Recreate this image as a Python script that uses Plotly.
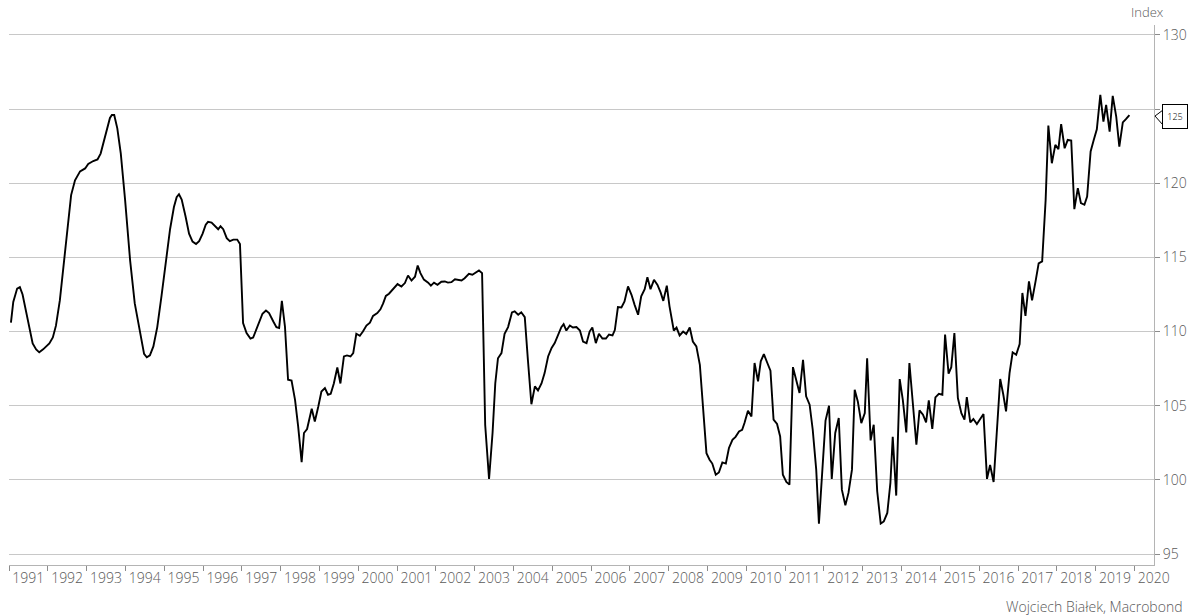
import datetime as _dt
import plotly.graph_objects as go

# Time points (decimal years) and index values
years = [
    1991.05, 1991.11, 1991.21, 1991.28, 1991.35, 1991.46, 1991.61, 1991.70, 1991.78, 1991.88,
    1992.04, 1992.13, 1992.21, 1992.31, 1992.40, 1992.49, 1992.60, 1992.70, 1992.83, 1992.96,
    1993.04, 1993.17, 1993.28, 1993.36, 1993.47, 1993.60, 1993.65, 1993.71, 1993.79, 1993.88,
    1993.99, 1994.12, 1994.24, 1994.37, 1994.48, 1994.55, 1994.63, 1994.72, 1994.82, 1994.93,
    1995.04, 1995.15, 1995.25, 1995.32, 1995.38, 1995.45, 1995.55, 1995.64, 1995.73, 1995.82,
    1995.90, 1995.99, 1996.07, 1996.13, 1996.22, 1996.31, 1996.39, 1996.45, 1996.52, 1996.61,
    1996.69, 1996.78, 1996.88, 1996.95, 1997.03, 1997.12, 1997.22, 1997.29, 1997.42, 1997.53,
    1997.62, 1997.70, 1997.81, 1997.89, 1997.96, 1998.03, 1998.11, 1998.19, 1998.28, 1998.37,
    1998.45, 1998.54, 1998.60, 1998.68, 1998.80, 1998.88, 1998.97, 1999.05, 1999.14, 1999.22,
    1999.29, 1999.37, 1999.46, 1999.54, 1999.63, 1999.71, 1999.80, 1999.87, 1999.95, 2000.04,
    2000.12, 2000.21, 2000.30, 2000.38, 2000.49, 2000.57, 2000.64, 2000.71, 2000.79, 2000.90,
    2001.01, 2001.11, 2001.20, 2001.28, 2001.37, 2001.46, 2001.53, 2001.60, 2001.69, 2001.80,
    2001.87, 2001.95, 2002.04, 2002.14, 2002.23, 2002.31, 2002.40, 2002.49, 2002.57, 2002.66,
    2002.74, 2002.85, 2002.94, 2003.03, 2003.11, 2003.19, 2003.27, 2003.37, 2003.46, 2003.53,
    2003.60, 2003.69, 2003.77, 2003.86, 2003.96, 2004.03, 2004.12, 2004.20, 2004.29, 2004.37,
    2004.46, 2004.55, 2004.63, 2004.72, 2004.80, 2004.89, 2004.98, 2005.06, 2005.15, 2005.23,
    2005.29, 2005.36, 2005.45, 2005.53, 2005.62, 2005.71, 2005.79, 2005.88, 2005.96, 2006.03,
    2006.12, 2006.20, 2006.29, 2006.38, 2006.46, 2006.55, 2006.61, 2006.69, 2006.78, 2006.86,
    2006.95, 2007.04, 2007.12, 2007.21, 2007.29, 2007.38, 2007.45, 2007.53, 2007.62, 2007.71,
    2007.79, 2007.86, 2007.95, 2008.02, 2008.13, 2008.20, 2008.28, 2008.37, 2008.45, 2008.54,
    2008.62, 2008.71, 2008.80, 2008.88, 2008.97, 2009.05, 2009.12, 2009.21, 2009.29, 2009.38,
    2009.47, 2009.55, 2009.64, 2009.72, 2009.81, 2009.89, 2009.95, 2010.04, 2010.13, 2010.21,
    2010.30, 2010.37, 2010.45, 2010.54, 2010.62, 2010.70, 2010.79, 2010.87, 2010.94, 2011.03,
    2011.11, 2011.20, 2011.29, 2011.37, 2011.46, 2011.54, 2011.63, 2011.71, 2011.80, 2011.87,
    2012.04, 2012.13, 2012.20, 2012.29, 2012.38, 2012.46, 2012.55, 2012.63, 2012.72, 2012.79,
    2012.87, 2012.96, 2013.05, 2013.11, 2013.20, 2013.28, 2013.37, 2013.46, 2013.54, 2013.63,
    2013.71, 2013.77, 2013.86, 2013.95, 2014.03, 2014.12, 2014.20, 2014.29, 2014.38, 2014.46,
    2014.55, 2014.63, 2014.70, 2014.79, 2014.87, 2014.96, 2015.05, 2015.12, 2015.21, 2015.28,
    2015.36, 2015.45, 2015.54, 2015.62, 2015.68, 2015.77, 2015.85, 2015.94, 2016.03, 2016.11,
    2016.20, 2016.28, 2016.37, 2016.45, 2016.54, 2016.62, 2016.69, 2016.78, 2016.86, 2016.95,
    2017.04, 2017.11, 2017.19, 2017.28, 2017.36, 2017.45, 2017.53, 2017.62, 2017.71, 2017.78,
    2017.87, 2017.96, 2018.04, 2018.11, 2018.20, 2018.28, 2018.37, 2018.45, 2018.54, 2018.62,
    2018.71, 2018.78, 2018.87, 2018.95, 2019.03, 2019.12, 2019.20, 2019.27, 2019.36, 2019.44,
    2019.53, 2019.61, 2019.70, 2019.78, 2019.87,
]

values = [
    110.6, 112.0, 112.9, 113.0, 112.5, 111.0, 109.2, 108.8, 108.6, 108.8,
    109.2, 109.6, 110.4, 112.1, 114.2, 116.6, 119.2, 120.2, 120.8, 121.0,
    121.3, 121.5, 121.6, 122.0, 123.15, 124.4, 124.6, 124.6, 123.7, 122.0,
    118.9, 114.8, 111.9, 109.9, 108.5, 108.27, 108.4, 109.0, 110.3, 112.4,
    114.6, 116.9, 118.4, 119.06, 119.26, 118.9, 117.76, 116.6, 116.07, 115.9,
    116.1, 116.6, 117.2, 117.4, 117.35, 117.1, 116.9, 117.1, 116.9, 116.3,
    116.1, 116.2, 116.2, 115.9, 110.57, 109.9, 109.53, 109.6, 110.46, 111.2,
    111.42, 111.25, 110.68, 110.3, 110.24, 112.07, 110.34, 106.75, 106.7, 105.4,
    103.6, 101.2, 103.16, 103.43, 104.8, 103.94, 104.95, 105.96, 106.19, 105.74,
    105.8, 106.5, 107.58, 106.5, 108.32, 108.39, 108.32, 108.55, 109.85, 109.72,
    110.0, 110.4, 110.6, 111.06, 111.25, 111.5, 111.9, 112.4, 112.55, 112.86,
    113.2, 113.04, 113.27, 113.78, 113.44, 113.7, 114.45, 113.94, 113.5, 113.3,
    113.1, 113.3, 113.15, 113.36, 113.38, 113.3, 113.33, 113.53, 113.5, 113.44,
    113.6, 113.9, 113.83, 114.0, 114.12, 113.94, 103.7, 100.06, 103.16, 106.5,
    108.2, 108.55, 109.85, 110.3, 111.29, 111.36, 111.13, 111.3, 110.97, 108.1,
    105.1, 106.3, 106.03, 106.5, 107.2, 108.32, 108.9, 109.22, 109.8, 110.3,
    110.5, 110.07, 110.41, 110.27, 110.3, 110.07, 109.33, 109.22, 110.0, 110.27,
    109.22, 109.85, 109.53, 109.53, 109.8, 109.74, 110.1, 111.65, 111.63, 112.03,
    113.04, 112.48, 111.8, 111.13, 112.37, 112.86, 113.67, 112.86, 113.49, 113.15,
    112.64, 112.07, 113.09, 111.7, 110.07, 110.27, 109.74, 110.0, 109.83, 110.27,
    109.33, 109.0, 107.76, 104.95, 101.8, 101.36, 101.1, 100.35, 100.5, 101.18,
    101.1, 102.15, 102.7, 102.9, 103.27, 103.38, 103.83, 104.66, 104.28, 107.88,
    106.64, 107.99, 108.48, 107.88, 107.36, 104.06, 103.77, 102.93, 100.35, 99.86,
    99.68, 107.6, 106.64, 105.86, 108.1, 105.63, 105.07, 103.38, 100.69, 97.05,
    104.0, 105.0, 100.06, 103.16, 104.17, 99.34, 98.28, 99.12, 100.69, 106.08,
    105.29, 103.83, 104.5, 108.2, 102.66, 103.72, 99.23, 97.05, 97.2, 97.77,
    99.8, 102.9, 98.94, 106.8, 105.4, 103.2, 107.88, 105.2, 102.37, 104.68,
    104.39, 103.87, 105.36, 103.43, 105.56, 105.8, 105.74, 109.8, 107.16, 107.6,
    109.9, 105.52, 104.5, 104.06, 105.58, 103.87, 104.1, 103.77, 104.17, 104.44,
    100.07, 101.0, 99.86, 103.38, 106.8, 105.74, 104.62, 107.2, 108.6, 108.44,
    109.16, 112.6, 111.06, 113.38, 112.1, 113.38, 114.6, 114.73, 118.88, 123.89,
    121.35, 122.59, 122.3, 123.98, 122.36, 122.92, 122.88, 118.25, 119.67, 118.66,
    118.55, 119.1, 122.14, 122.92, 123.64, 125.96, 124.16, 125.28, 123.48, 125.89,
    124.5, 122.47, 124.1, 124.32, 124.6,
]

tick_years = list(range(1991, 2021))
y_ticks = [95, 100, 105, 110, 115, 120, 125, 130]
y_ticktext = ["95", "100", "105", "110", "115", "120", "", "130"]  # 125 covered by callout
last_label = "125"
source_text = "Wojciech Białek, Macrobond"
unit_text = "Index"


def to_date(y):
    yr = int(y)
    frac = y - yr
    start = _dt.datetime(yr, 1, 1)
    end = _dt.datetime(yr + 1, 1, 1)
    return start + (end - start) * frac


dates = [to_date(v) for v in years]
label_pos = [_dt.datetime(y, 7, 1) for y in tick_years]

FONT = "Segoe UI Light, Open Sans, Lato, sans-serif"
GREY = "#595959"
W = 300

fig = go.Figure()
fig.add_trace(go.Scatter(
    x=dates, y=values, mode="lines",
    line=dict(color="#000000", width=1.9),
    hoverinfo="skip", showlegend=False,
))

fig.update_layout(
    width=1196, height=616,
    margin=dict(l=9, r=42, t=25, b=51, autoexpand=False),
    paper_bgcolor="white", plot_bgcolor="white",
    font=dict(family=FONT, size=14, color=GREY, weight=W),
    showlegend=False,
)

fig.update_xaxes(
    range=[_dt.datetime(1991, 1, 1), _dt.datetime(2020, 7, 3)],
    tickvals=label_pos, ticktext=[str(y) for y in tick_years],
    ticks="", showgrid=False, zeroline=False,
    showline=True, linecolor="#b4b4b4", linewidth=1,
    tickfont=dict(family=FONT, size=14, color=GREY, weight=W),
    minor=dict(tick0="1991-01-01", dtick="M12", ticks="outside", ticklen=5,
               tickcolor="#8c8c8c", tickwidth=1, showgrid=False),
)

fig.update_yaxes(
    side="right", range=[94.26, 130.67],
    tickvals=y_ticks, ticktext=y_ticktext,
    ticks="outside", ticklen=5, tickcolor="#8c8c8c",
    showgrid=True, gridcolor="#c8c8c8", gridwidth=1,
    zeroline=False, showline=True, linecolor="#b4b4b4", linewidth=1,
    tickfont=dict(family=FONT, size=14, color=GREY, weight=W),
)

# Last value callout: bordered label box plus a notch pointing at the axis
last_val = values[-1]
fig.add_annotation(
    xref="paper", yref="y", x=1, y=last_val, xanchor="left", yanchor="middle",
    xshift=8, yshift=-1, text=last_label, showarrow=False,
    width=20, height=19, align="center", valign="middle",
    bordercolor="#000000", borderwidth=1, borderpad=2, bgcolor="white",
    font=dict(family="Open Sans, sans-serif", size=9, color="#000000"),
)
fig.add_shape(
    type="path", xref="paper", yref="y",
    xsizemode="pixel", ysizemode="pixel",
    xanchor=1, yanchor=last_val,
    path="M 9 5 L 1 -1 L 9 -10",
    line=dict(color="#000000", width=1),
)

fig.add_annotation(
    xref="paper", yref="paper", x=1, y=1, xanchor="center", yanchor="bottom",
    xshift=-7, yshift=2, text=unit_text, showarrow=False,
    font=dict(family=FONT, size=13, color=GREY, weight=W),
)
fig.add_annotation(
    xref="paper", yref="paper", x=1, y=0, xanchor="right", yanchor="top",
    xshift=31, yshift=-30, text=source_text, showarrow=False,
    font=dict(family=FONT, size=14, color=GREY, weight=W),
)

fig.write_html(
    "out.html",
    config={"displayModeBar": False},
    post_script="document.body.style.margin='0';document.body.style.overflow='hidden';",
)
